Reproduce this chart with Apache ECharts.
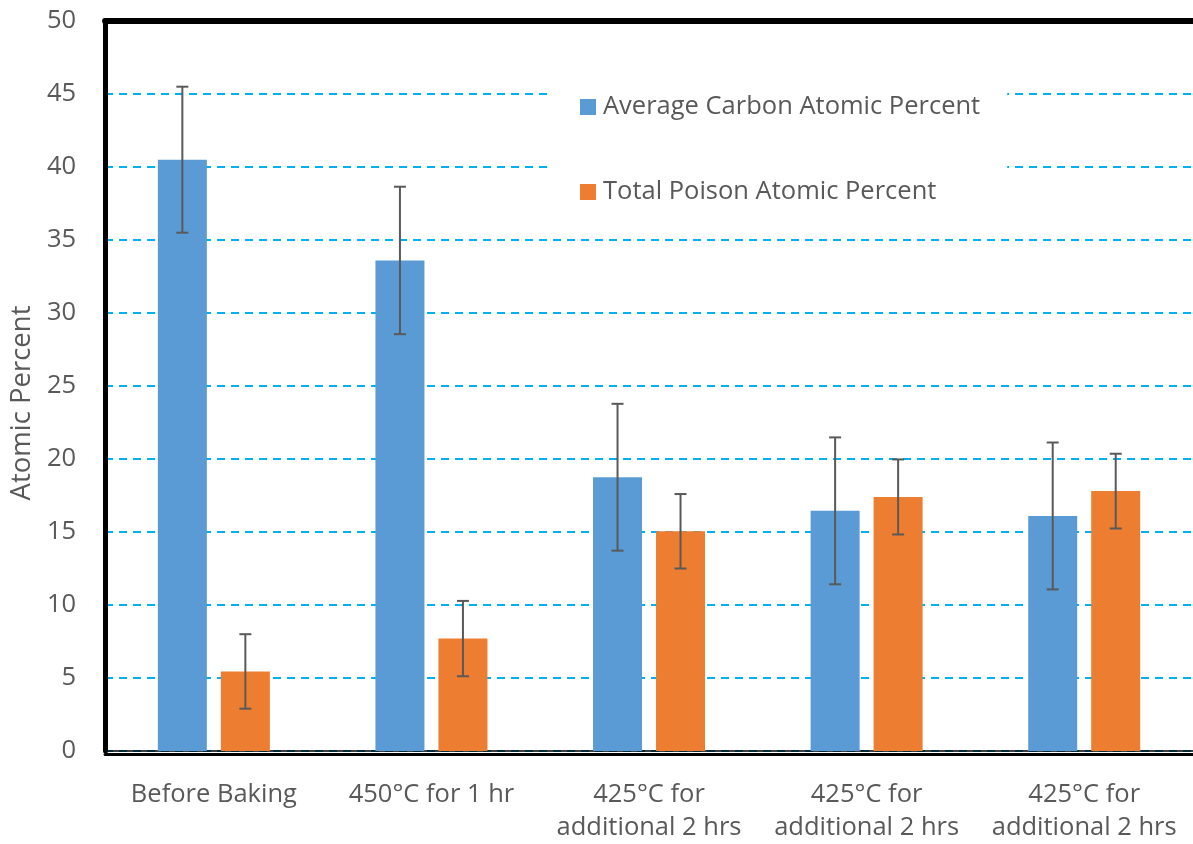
<!DOCTYPE html>
<html>
<head>
<meta charset="utf-8">
<script src="https://cdn.jsdelivr.net/npm/echarts@6/dist/echarts.min.js"></script>
<style>
  html, body { margin: 0; padding: 0; background: #fff; }
  #main { width: 1193px; height: 844px; }
</style>
</head>
<body>
<div id="main"></div>
<script>
const categories = ['Before Baking', '450°C for 1 hr', '425°C for\nadditional 2 hrs', '425°C for\nadditional 2 hrs', '425°C for\nadditional 2 hrs'];
const carbon = [40.5, 33.6, 18.75, 16.45, 16.1];
const carbonErr = [5, 5.05, 5.03, 5.03, 5.03];
const poison = [5.45, 7.7, 15.05, 17.4, 17.8];
const poisonErr = [2.55, 2.58, 2.55, 2.57, 2.56];
const seriesNames = ['Average Carbon Atomic Percent', 'Total Poison Atomic Percent'];
const yTicks = { min: 0, max: 50, interval: 5 };

window.addEventListener('load', function () {
    const chart = echarts.init(document.getElementById('main'));
    const font = 'Open Sans';
    const grey = '#595959';
    const fs = 25.5;
    const barW = 49;
    const gap = 14;
    const shift = (barW + gap) / 2;

    // error bars drawn beside each bar, offset from the category centre
    function errBars(offset) {
        return function (params, api) {
            const i = api.value(0), v = api.value(1), e = api.value(2);
            const top = api.coord([i, v + e]);
            const bot = api.coord([i, v - e]);
            const x = top[0] + offset;
            const style = { stroke: grey, lineWidth: 2 };
            return {
                type: 'group',
                children: [
                    { type: 'line', shape: { x1: x, y1: top[1], x2: x, y2: bot[1] }, style },
                    { type: 'line', shape: { x1: x - 6, y1: top[1], x2: x + 6, y2: top[1] }, style },
                    { type: 'line', shape: { x1: x - 6, y1: bot[1], x2: x + 6, y2: bot[1] }, style }
                ]
            };
        };
    }

    const option = {
        backgroundColor: '#fff',
        textStyle: { fontFamily: font },
        grid: { left: 101, right: -5, top: 21, bottom: 90 },
        legend: {
            data: seriesNames,
            orient: 'vertical',
            left: 551,
            top: 73,
            padding: [21, 27, 20, 29],
            backgroundColor: '#fff',
            icon: 'rect',
            itemWidth: 16,
            itemHeight: 16,
            itemGap: 59,
            textStyle: { fontFamily: font, fontSize: fs, color: grey, padding: [0, 0, 0, 2] }
        },
        xAxis: [{
            type: 'category',
            data: categories,
            axisLine: { lineStyle: { color: '#000', width: 1.5 } },
            axisTick: { show: false },
            axisLabel: { fontFamily: font, fontSize: fs, color: grey, lineHeight: 33, margin: 27, interval: 0 }
        }, {
            type: 'category',
            data: categories,
            position: 'bottom',
            offset: 3,
            axisLine: { lineStyle: { color: '#000', width: 3 } },
            axisTick: { show: false },
            axisLabel: { show: false }
        }, {
            type: 'category',
            data: categories,
            position: 'top',
            axisLine: { lineStyle: { color: '#000', width: 6 } },
            axisTick: { show: false },
            axisLabel: { show: false }
        }],
        yAxis: {
            type: 'value',
            min: yTicks.min,
            max: yTicks.max,
            interval: yTicks.interval,
            name: 'Atomic Percent',
            nameLocation: 'middle',
            nameGap: 66,
            nameTextStyle: { fontFamily: font, fontSize: 27.5, color: grey, padding: [0, 34, 0, 0] },
            axisLine: { show: true, lineStyle: { color: '#000', width: 5 } },
            axisTick: { show: false },
            axisLabel: { fontFamily: font, fontSize: fs, color: grey, margin: 29 },
            splitLine: { lineStyle: { color: '#00B0F0', width: 2, type: [8, 6] } }
        },
        series: [{
            name: seriesNames[0],
            type: 'bar',
            data: carbon,
            barWidth: barW,
            barGap: (gap / barW * 100) + '%',
            itemStyle: { color: '#5B9BD5' }
        }, {
            name: seriesNames[1],
            type: 'bar',
            data: poison,
            barWidth: barW,
            itemStyle: { color: '#ED7D31' }
        }, {
            name: 'carbonErr',
            type: 'custom',
            renderItem: errBars(-shift),
            data: carbon.map((v, i) => [i, v, carbonErr[i]]),
            z: 5
        }, {
            name: 'poisonErr',
            type: 'custom',
            renderItem: errBars(shift),
            data: poison.map((v, i) => [i, v, poisonErr[i]]),
            z: 5
        }]
    };
    chart.setOption(option);
});
</script>
</body>
</html>
